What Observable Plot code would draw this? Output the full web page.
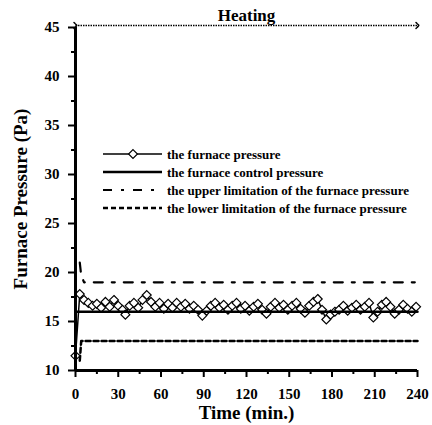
<!DOCTYPE html>
<html>
<head>
<meta charset="utf-8">
<script src="https://cdn.jsdelivr.net/npm/d3@7"></script>
<script src="https://cdn.jsdelivr.net/npm/@observablehq/plot@0.6"></script>
<style>
  html, body { margin: 0; padding: 0; background: #fff; }
  #chart { width: 432px; height: 425px; }
  #chart svg, #chart svg text { font-family: "Liberation Serif", "Times New Roman", serif !important; }
</style>
</head>
<body>
<div id="chart"></div>
<script>
// ---- data ----
const pressureTime = [0,3,6,9,12,15,18,21,24,27,30,33,35,38,41,44,47,50,53,56,59,62,65,68,71,74,77,80,83,86,89,92,95,98,101,104,107,110,113,116,119,122,125,128,131,134,137,140,143,146,149,152,155,158,161,164,167,170,173,176,179,182,185,188,191,194,197,200,203,206,209,212,215,218,221,224,227,230,233,236,239];
const pressureValue = [11.5,17.8,17.2,16.9,16.6,16.8,16.4,17.0,16.5,17.2,16.6,16.2,15.7,16.6,16.9,16.4,17.2,17.7,17.0,16.5,16.9,16.3,16.8,16.4,16.9,16.5,16.8,16.3,16.6,16.2,15.6,16.1,16.6,16.9,16.4,16.7,16.2,16.6,16.9,16.3,16.6,16.1,16.5,16.8,16.2,15.8,16.5,16.9,16.4,16.7,16.2,16.6,16.9,16.3,15.9,16.6,17.0,17.3,16.2,15.2,15.7,16.0,16.2,16.6,16.1,16.4,16.7,16.2,16.5,16.9,15.4,16.0,16.7,17.0,16.5,15.8,16.2,16.7,16.3,16.0,16.5];
const controlTime = [0, 240];
const controlValue = [16, 16];
const upperTime = [3, 4, 6, 240];
const upperValue = [21, 19.7, 19, 19];
const lowerTime = [3, 4, 240];
const lowerValue = [11, 13, 13];
const phases = [{label: "Heating", start: 0, end: 240}];
const xTicks = [0,30,60,90,120,150,180,210,240];
const xMinor = [15,45,75,105,135,165,195,225];
const yTicks = [10,15,20,25,30,35,40,45];
const yMinor = [12.5,17.5,22.5,27.5,32.5,37.5,42.5];
const legendLabels = [
  "the furnace pressure",
  "the furnace control pressure",
  "the upper limitation of the furnace pressure",
  "the lower limitation of the furnace pressure"
];

const zip = (xs, ys) => xs.map((x, i) => ({x, y: ys[i]}));
const pressure = zip(pressureTime, pressureValue);
const control = zip(controlTime, controlValue);
const upper = zip(upperTime, upperValue);
const lower = zip(lowerTime, lowerValue);

const FONT = "Liberation Serif, Times New Roman, serif";

const chart = Plot.plot({
  width: 432,
  height: 425,
  marginLeft: 75,
  marginRight: 15,
  marginTop: 27,
  marginBottom: 55,
  x: {domain: [0, 240]},
  y: {domain: [10, 45]},
  style: {fontFamily: FONT, fontSize: "15px", fontWeight: "bold", color: "#000", background: "#fff"},
  marks: [
    // limits and control
    Plot.line(upper, {x: "x", y: "y", stroke: "#000", strokeWidth: 2.2, strokeDasharray: "9,9,3,9"}),
    Plot.line(lower, {x: "x", y: "y", stroke: "#000", strokeWidth: 2.5, strokeDasharray: "5,3"}),
    Plot.line(pressure, {x: "x", y: "y", stroke: "#000", strokeWidth: 1.5}),
    Plot.dot(pressure, {x: "x", y: "y", symbol: "diamond2", r: 4, stroke: "#000", strokeWidth: 1.2, fill: "#fff"}),
    Plot.line(control, {x: "x", y: "y", stroke: "#000", strokeWidth: 2.5}),
    // axes
    Plot.axisX({ticks: xTicks, tickSize: 7, tickPadding: 11, fontFamily: FONT, fontSize: 15, fontWeight: "bold", label: null, strokeWidth: 2}),
    Plot.axisX({ticks: xMinor, tickSize: 4, text: null, label: null, strokeWidth: 2}),
    Plot.axisY({ticks: yTicks, tickSize: 7, tickPadding: 9, fontFamily: FONT, fontSize: 15, fontWeight: "bold", label: null, strokeWidth: 2}),
    Plot.axisY({ticks: yMinor, tickSize: 4, text: null, label: null, strokeWidth: 2}),
    Plot.ruleX([0], {stroke: "#000", strokeWidth: 3}),
    Plot.ruleY([10], {stroke: "#000", strokeWidth: 3}),
    // phase arrow
    Plot.link(phases, {x1: "start", x2: "end", y1: () => 45, y2: () => 45, dy: -2, stroke: "#000", strokeWidth: 1.5, strokeDasharray: "1.5,1", markerStart: "arrow", markerEnd: "arrow"}),
    Plot.text(phases, {x: d => (d.start + d.end) / 2, y: () => 45, text: "label", dy: -12, fontFamily: FONT, fontSize: 17, fontWeight: "bold"}),
    // axis titles
    Plot.text(["Furnace Pressure (Pa)"], {frameAnchor: "left", textAnchor: "middle", dx: -55, rotate: -90, fontFamily: FONT, fontSize: 19, fontWeight: "bold"}),
    Plot.text(["Time (min.)"], {frameAnchor: "bottom", lineAnchor: "bottom", dy: 48, fontFamily: FONT, fontSize: 19, fontWeight: "bold"})
  ]
});

document.getElementById("chart").appendChild(chart);

// ---- legend (drawn into the same svg) ----
const svg = d3.select(chart);
const lg = svg.append("g").attr("font-family", FONT).attr("font-weight", "bold").attr("font-size", 13).attr("text-anchor", "start");
const styles = [
  {dash: null, w: 1.5, marker: true},
  {dash: null, w: 2.5},
  {dash: "9,9,3,9", w: 2.2},
  {dash: "5,3", w: 2.5}
];
legendLabels.forEach((label, i) => {
  const yy = 154 + i * 18;
  const s = styles[i];
  const ln = lg.append("line").attr("x1", 103).attr("x2", 162).attr("y1", yy).attr("y2", yy)
    .attr("stroke", "#000").attr("stroke-width", s.w);
  if (s.dash) ln.attr("stroke-dasharray", s.dash);
  if (s.marker) {
    lg.append("path").attr("d", d3.symbol(d3.symbolDiamond2, Math.PI * 16)()).attr("transform", `translate(133,${yy})`)
      .attr("fill", "#fff").attr("stroke", "#000").attr("stroke-width", 1.2);
  }
  lg.append("text").attr("x", 167).attr("y", yy).attr("dy", "0.35em").attr("text-anchor", "start").text(label);
});
</script>
</body>
</html>
